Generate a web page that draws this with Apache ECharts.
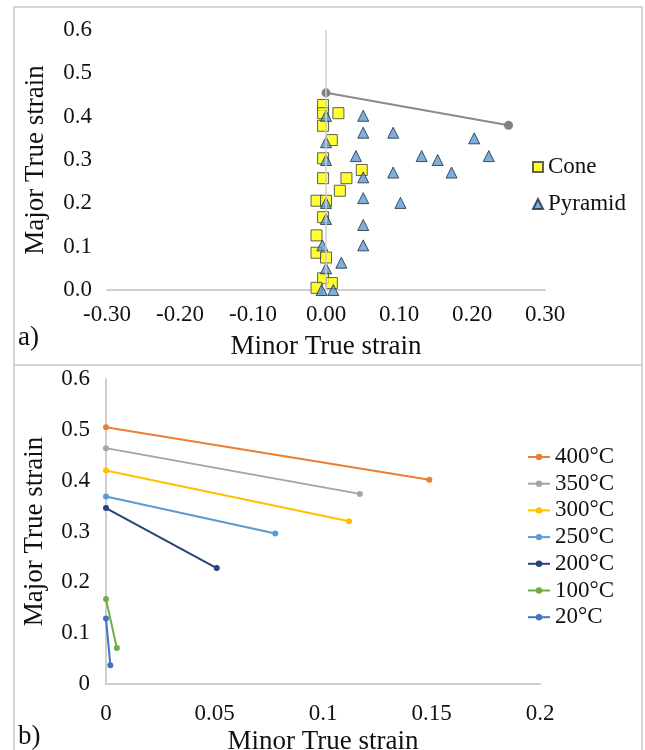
<!DOCTYPE html>
<html>
<head>
<meta charset="utf-8">
<script src="https://cdn.jsdelivr.net/npm/echarts@6/dist/echarts.min.js"></script>
<style>
  html, body { margin: 0; padding: 0; background: #fff; }
  #chart { width: 645px; height: 750px; }
</style>
</head>
<body>
<div id="chart"></div>
<script>
// a) cone / pyramid points
var coneMinor = [-0.004, -0.004, 0.017, -0.004, 0.008, -0.004, 0.049, -0.004, 0.028, 0.019, -0.013, 0, -0.004, -0.013, -0.013, 0, -0.004, 0.008, -0.013];
var coneMajor = [0.427, 0.408, 0.408, 0.379, 0.346, 0.304, 0.277, 0.258, 0.258, 0.229, 0.206, 0.206, 0.168, 0.126, 0.086, 0.075, 0.027, 0.016, 0.005];
var pyrMinor = [0, 0.051, 0.051, 0.092, 0.203, 0, 0.041, 0.131, 0.153, 0.223, 0, 0.051, 0.092, 0.172, 0.051, 0.102, 0, 0, 0.051, -0.005, 0.051, 0.021, 0, -0.006, 0.010];
var pyrMajor = [0.402, 0.402, 0.363, 0.363, 0.350, 0.341, 0.309, 0.309, 0.300, 0.309, 0.300, 0.260, 0.271, 0.271, 0.212, 0.201, 0.201, 0.164, 0.150, 0.103, 0.103, 0.063, 0.050, 0.0, 0.0];
var limitMinor = [0, 0.25];
var limitMajor = [0.455, 0.38];

// b) temperatures
var temps = ['400°C', '350°C', '300°C', '250°C', '200°C', '100°C', '20°C'];
var startMinor = [0, 0, 0, 0, 0, 0, 0];
var startMajor = [0.505, 0.464, 0.420, 0.369, 0.346, 0.167, 0.129];
var endMinor = [0.149, 0.117, 0.112, 0.078, 0.051, 0.005, 0.002];
var endMajor = [0.402, 0.374, 0.320, 0.296, 0.228, 0.071, 0.037];
var tempColors = ['#ED7D31', '#A5A5A5', '#FFC000', '#5B9BD5', '#264478', '#70AD47', '#4472C4'];

var font = 'Liberation Serif';
var axisGray = '#cfcfcf';

function pairs(xs, ys) {
    return xs.map(function (x, i) { return [x, ys[i]]; });
}

var series = [];
series.push({
    name: 'Cone',
    type: 'scatter',
    xAxisIndex: 0, yAxisIndex: 0,
    symbol: 'rect',
    symbolSize: 11,
    itemStyle: { color: '#FFFF00', borderColor: '#3a3a3a', borderWidth: 1 },
    data: pairs(coneMinor, coneMajor)
});
series.push({
    name: 'Pyramid',
    type: 'scatter',
    xAxisIndex: 0, yAxisIndex: 0,
    symbol: 'triangle',
    symbolSize: 11,
    itemStyle: { color: '#5B9BD5', borderColor: '#1f2a3a', borderWidth: 1 },
    data: pairs(pyrMinor, pyrMajor)
});
series.push({
    name: 'limit',
    type: 'line',
    xAxisIndex: 0, yAxisIndex: 0,
    symbol: 'circle',
    symbolSize: 9,
    z: 1,
    lineStyle: { color: '#8a8a8a', width: 2 },
    itemStyle: { color: '#808080' },
    data: pairs(limitMinor, limitMajor),
    markLine: {
        silent: true,
        symbol: 'none',
        label: { show: false },
        lineStyle: { color: axisGray, type: 'solid', width: 1.5 },
        data: [{ xAxis: 0 }]
    }
});
temps.forEach(function (t, i) {
    series.push({
        name: t,
        type: 'line',
        xAxisIndex: 1, yAxisIndex: 1,
        symbol: 'circle',
        symbolSize: 6,
        color: tempColors[i],
        lineStyle: { width: 2 },
        data: [[startMinor[i], startMajor[i]], [endMinor[i], endMajor[i]]]
    });
});

var tickLabel = { fontFamily: font, fontSize: 23, color: '#111' };
var nameStyle = { fontFamily: font, fontSize: 27, color: '#111' };

var option = {
    animation: false,
    backgroundColor: '#fff',
    grid: [
        { left: 107, right: 100, top: 30, bottom: 460, outerBoundsMode: 'none', containLabel: false },
        { left: 106, right: 105, top: 379, bottom: 66, outerBoundsMode: 'none', containLabel: false }
    ],
    xAxis: [
        {
            type: 'value', gridIndex: 0, min: -0.3, max: 0.3, interval: 0.1,
            name: 'Minor True strain', nameLocation: 'middle', nameGap: 43, nameTextStyle: nameStyle,
            axisLine: { onZero: false, lineStyle: { color: axisGray, width: 2 } },
            axisTick: { show: false }, splitLine: { show: false },
            axisLabel: Object.assign({ margin: 13, formatter: function (v) { return v.toFixed(2); } }, tickLabel)
        },
        {
            type: 'value', gridIndex: 1, min: 0, max: 0.2, interval: 0.05,
            name: 'Minor True strain', nameLocation: 'middle', nameGap: 44, nameTextStyle: nameStyle,
            axisLine: { onZero: false, lineStyle: { color: axisGray, width: 2 } },
            axisTick: { show: false }, splitLine: { show: false },
            axisLabel: Object.assign({ margin: 18 }, tickLabel)
        }
    ],
    yAxis: [
        {
            type: 'value', gridIndex: 0, min: 0, max: 0.6, interval: 0.1,
            name: 'Major True strain', nameLocation: 'middle', nameGap: 58, nameTextStyle: nameStyle,
            axisLine: { show: false }, axisTick: { show: false }, splitLine: { show: false },
            axisLabel: Object.assign({ margin: 15, formatter: function (v) { return v.toFixed(1); } }, tickLabel)
        },
        {
            type: 'value', gridIndex: 1, min: 0, max: 0.6, interval: 0.1,
            name: 'Major True strain', nameLocation: 'middle', nameGap: 58, nameTextStyle: nameStyle,
            axisLine: { show: true, onZero: false, lineStyle: { color: axisGray, width: 2 } },
            axisTick: { show: false }, splitLine: { show: false },
            axisLabel: Object.assign({ margin: 16 }, tickLabel)
        }
    ],
    legend: [
        {
            data: ['Cone', 'Pyramid'],
            orient: 'vertical', left: 527, top: 150,
            itemWidth: 10, itemHeight: 10, itemGap: 13,
            textStyle: { fontFamily: font, fontSize: 23, color: '#111', lineHeight: 24 }
        },
        {
            data: temps,
            orient: 'vertical', left: 522, top: 440,
            itemWidth: 22, itemHeight: 8, itemGap: 2.7,
            textStyle: { fontFamily: font, fontSize: 23, color: '#111', lineHeight: 24 }
        }
    ],
    graphic: [
        { type: 'rect', shape: { x: 14, y: 7, width: 628, height: 358 }, style: { fill: 'none', stroke: '#d4d4d4', lineWidth: 2 }, silent: true },
        { type: 'rect', shape: { x: 14, y: 365, width: 628, height: 400 }, style: { fill: 'none', stroke: '#d4d4d4', lineWidth: 2 }, silent: true },
        { type: 'text', left: 18, top: 324, style: { text: 'a)', font: '27px "Liberation Serif"', fill: '#111' } },
        { type: 'text', left: 18, top: 723, style: { text: 'b)', font: '27px "Liberation Serif"', fill: '#111' } }
    ],
    series: series
};

var myChart = echarts.init(document.getElementById('chart'));
myChart.setOption(option);
</script>
</body>
</html>
